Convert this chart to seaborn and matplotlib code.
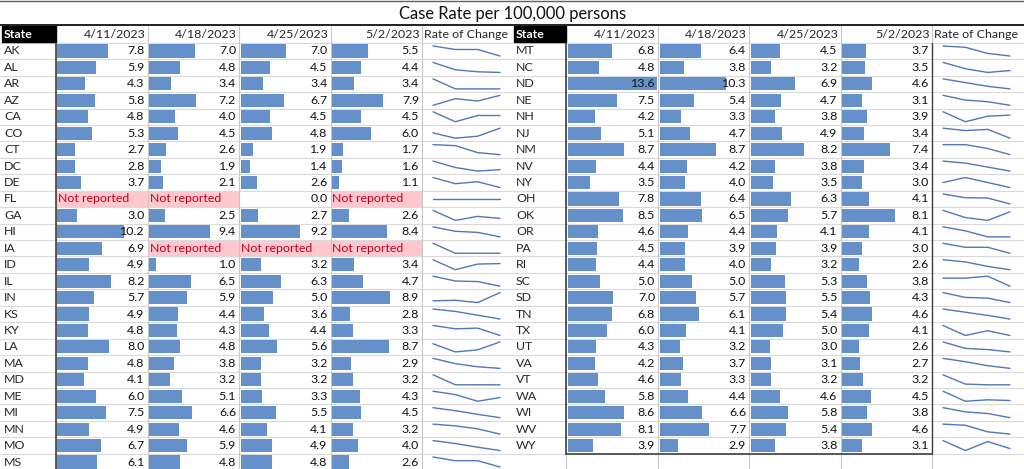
#!/usr/bin/env python3
"""Case rate per 100,000 persons - Excel style table with data bars and sparklines."""

import matplotlib
matplotlib.use("Agg")
import matplotlib.pyplot as plt
import numpy as np
import seaborn as sns

TITLE = "Case Rate per 100,000 persons"
DATES = ["4/11/2023", "4/18/2023", "4/25/2023", "5/2/2023"]
NR = None  # "Not reported"

LEFT_STATES = ["AK", "AL", "AR", "AZ", "CA", "CO", "CT", "DC", "DE", "FL", "GA", "HI", "IA",
               "ID", "IL", "IN", "KS", "KY", "LA", "MA", "MD", "ME", "MI", "MN", "MO", "MS"]
LEFT_APR11 = [7.8, 5.9, 4.3, 5.8, 4.8, 5.3, 2.7, 2.8, 3.7, NR, 3.0, 10.2, 6.9,
              4.9, 8.2, 5.7, 4.9, 4.8, 8.0, 4.8, 4.1, 6.0, 7.5, 4.9, 6.7, 6.1]
LEFT_APR18 = [7.0, 4.8, 3.4, 7.2, 4.0, 4.5, 2.6, 1.9, 2.1, NR, 2.5, 9.4, NR,
              1.0, 6.5, 5.9, 4.4, 4.3, 4.8, 3.8, 3.2, 5.1, 6.6, 4.6, 5.9, 4.8]
LEFT_APR25 = [7.0, 4.5, 3.4, 6.7, 4.5, 4.8, 1.9, 1.4, 2.6, 0.0, 2.7, 9.2, NR,
              3.2, 6.3, 5.0, 3.6, 4.4, 5.6, 3.2, 3.2, 3.3, 5.5, 4.1, 4.9, 4.8]
LEFT_MAY02 = [5.5, 4.4, 3.4, 7.9, 4.5, 6.0, 1.7, 1.6, 1.1, NR, 2.6, 8.4, NR,
              3.4, 4.7, 8.9, 2.8, 3.3, 8.7, 2.9, 3.2, 4.3, 4.5, 3.2, 4.0, 2.6]

RIGHT_STATES = ["MT", "NC", "ND", "NE", "NH", "NJ", "NM", "NV", "NY", "OH", "OK", "OR", "PA",
                "RI", "SC", "SD", "TN", "TX", "UT", "VA", "VT", "WA", "WI", "WV", "WY"]
RIGHT_APR11 = [6.8, 4.8, 13.6, 7.5, 4.2, 5.1, 8.7, 4.4, 3.5, 7.8, 8.5, 4.6, 4.5,
               4.4, 5.0, 7.0, 6.8, 6.0, 4.3, 4.2, 4.6, 5.8, 8.6, 8.1, 3.9]
RIGHT_APR18 = [6.4, 3.8, 10.3, 5.4, 3.3, 4.7, 8.7, 4.2, 4.0, 6.4, 6.5, 4.4, 3.9,
               4.0, 5.0, 5.7, 6.1, 4.1, 3.2, 3.7, 3.3, 4.4, 6.6, 7.7, 2.9]
RIGHT_APR25 = [4.5, 3.2, 6.9, 4.7, 3.8, 4.9, 8.2, 3.8, 3.5, 6.3, 5.7, 4.1, 3.9,
               3.2, 5.3, 5.5, 5.4, 5.0, 3.0, 3.1, 3.2, 4.6, 5.8, 5.4, 3.8]
RIGHT_MAY02 = [3.7, 3.5, 4.6, 3.1, 3.9, 3.4, 7.4, 3.4, 3.0, 4.1, 8.1, 4.1, 3.0,
               2.6, 3.8, 4.3, 4.6, 4.1, 2.6, 2.7, 3.2, 4.5, 3.8, 4.6, 3.1]

BAR_MAX = 13.6
BAR_COLOR = "#6590C9"
LINE_COLOR = "#4F78B5"
NR_FILL = "#FFC7CE"
NR_TEXT = "#C0001A"
FS = 8.9

# layout in pixels
W, H = 1024, 469
ROW_Y0 = 51.0      # centre of first data row
ROW_H = 16.44
HEAD_TOP = 26.0
TABLES = [
    dict(states=LEFT_STATES, cols=[LEFT_APR11, LEFT_APR18, LEFT_APR25, LEFT_MAY02],
         edges=[0, 55.5, 147.5, 239, 330.5, 422, 512], box=False),
    dict(states=RIGHT_STATES, cols=[RIGHT_APR11, RIGHT_APR18, RIGHT_APR25, RIGHT_MAY02],
         edges=[512, 566, 658, 749, 840.5, 932, 1024], box=True),
]

sns.set_theme(style="white")
plt.rcParams["font.family"] = ["Lato", "DejaVu Sans"]


def fig_rect(x0, y0, x1, y1):
    return [x0 / W, 1 - y1 / H, (x1 - x0) / W, (y1 - y0) / H]


def row_top(i):
    return ROW_Y0 - ROW_H / 2 + i * ROW_H


fig = plt.figure(figsize=(W / 100, H / 100), dpi=100)
fig.patch.set_facecolor("white")

# under-layer: grid and pink cells; over-layer: text and borders
under = fig.add_axes([0, 0, 1, 1], zorder=0)
over = fig.add_axes([0, 0, 1, 1], zorder=10)
for a in (under, over):
    a.set_xlim(0, W)
    a.set_ylim(H, 0)
    a.axis("off")
    a.patch.set_alpha(0)

n_grid = int((H - row_top(0)) / ROW_H) + 2
for k in range(n_grid):
    y = row_top(k)
    under.plot([0, W], [y, y], color="#DADADA", lw=0.8)
for t in TABLES:
    for x in t["edges"][1:-1]:
        under.plot([x, x], [HEAD_TOP, H], color="#C8C8C8", lw=0.8)
over.plot([0, W], [1.2, 1.2], color="#606060", lw=1.0)
over.plot([0, W], [24.8, 24.8], color="#202020", lw=1.4)

over.text(512.5, 13.5, TITLE, ha="center", va="center", fontsize=11.9, color="#111111")

for t in TABLES:
    e = t["edges"]
    n = len(t["states"])
    bottom = row_top(n)

    # header row
    over.add_patch(plt.Rectangle((e[0] + 2, HEAD_TOP), e[1] - e[0] - 2, ROW_H - 0.6,
                                 color="black"))
    over.text(e[0] + 4, HEAD_TOP + ROW_H / 2, "State", color="white", fontsize=FS,
              fontweight="bold", va="center", ha="left")
    for j, d in enumerate(DATES):
        over.text(e[j + 2] - 2, HEAD_TOP + ROW_H / 2, d, ha="right", va="center", fontsize=FS)
    over.text(e[5] + 2, HEAD_TOP + ROW_H / 2, "Rate of Change", ha="left", va="center",
              fontsize=FS)

    # borders
    over.plot([e[1], e[1]], [row_top(0), bottom if t["box"] else H], color="#404040", lw=1.2)
    if t["box"]:
        over.plot([e[1], e[5]], [bottom, bottom], color="#404040", lw=1.2)
        over.plot([e[5], e[5]], [row_top(0), bottom], color="#404040", lw=1.0)

    # state names
    for i, s in enumerate(t["states"]):
        over.text(e[0] + 4, ROW_Y0 + i * ROW_H, s, ha="left", va="center", fontsize=FS)

    # data bar columns
    for j, vals in enumerate(t["cols"]):
        x0, x1 = e[j + 1], e[j + 2]
        filled = [0.0 if v is None else v for v in vals]
        ax = fig.add_axes(fig_rect(x0 + 1.5, row_top(0), x1 - 1.5, bottom), zorder=5)
        sns.barplot(x=filled, y=t["states"], order=t["states"], orient="h", ax=ax,
                    color=BAR_COLOR, saturation=1, errorbar=None, linewidth=0, width=0.8)
        ax.set_xlim(0, BAR_MAX)
        ax.set_ylim(n - 0.5, -0.5)
        ax.axis("off")
        ax.patch.set_alpha(0)

        for i, v in enumerate(vals):
            yc = ROW_Y0 + i * ROW_H
            if v is None:
                under.add_patch(plt.Rectangle((x0 + 1, row_top(i) + 0.8), x1 - x0 - 2,
                                              ROW_H - 1.6, color=NR_FILL))
                over.text(x0 + 2, yc, "Not reported", ha="left", va="center",
                          fontsize=FS, color=NR_TEXT)
            else:
                over.text(x1 - 3, yc, f"{v:.1f}", ha="right", va="center", fontsize=FS,
                          color="#111111")

    # sparklines
    for i in range(n):
        row = [0.0 if c[i] is None else c[i] for c in t["cols"]]
        yc = ROW_Y0 + i * ROW_H
        sx0 = e[5] + 11
        ax = fig.add_axes(fig_rect(sx0, yc - 5, sx0 + 67, yc + 5), zorder=5)
        sns.lineplot(x=[0, 1, 2, 3], y=row, ax=ax, color=LINE_COLOR, lw=1.0)
        lo, hi = min(row), max(row)
        if hi == lo:
            lo, hi = lo - 1, hi + 1
        ax.set_xlim(0, 3)
        ax.set_ylim(lo, hi)
        for line in ax.lines:
            line.set_clip_on(False)
        ax.axis("off")
        ax.patch.set_alpha(0)

fig.savefig("out.png", dpi=100, facecolor="white")
